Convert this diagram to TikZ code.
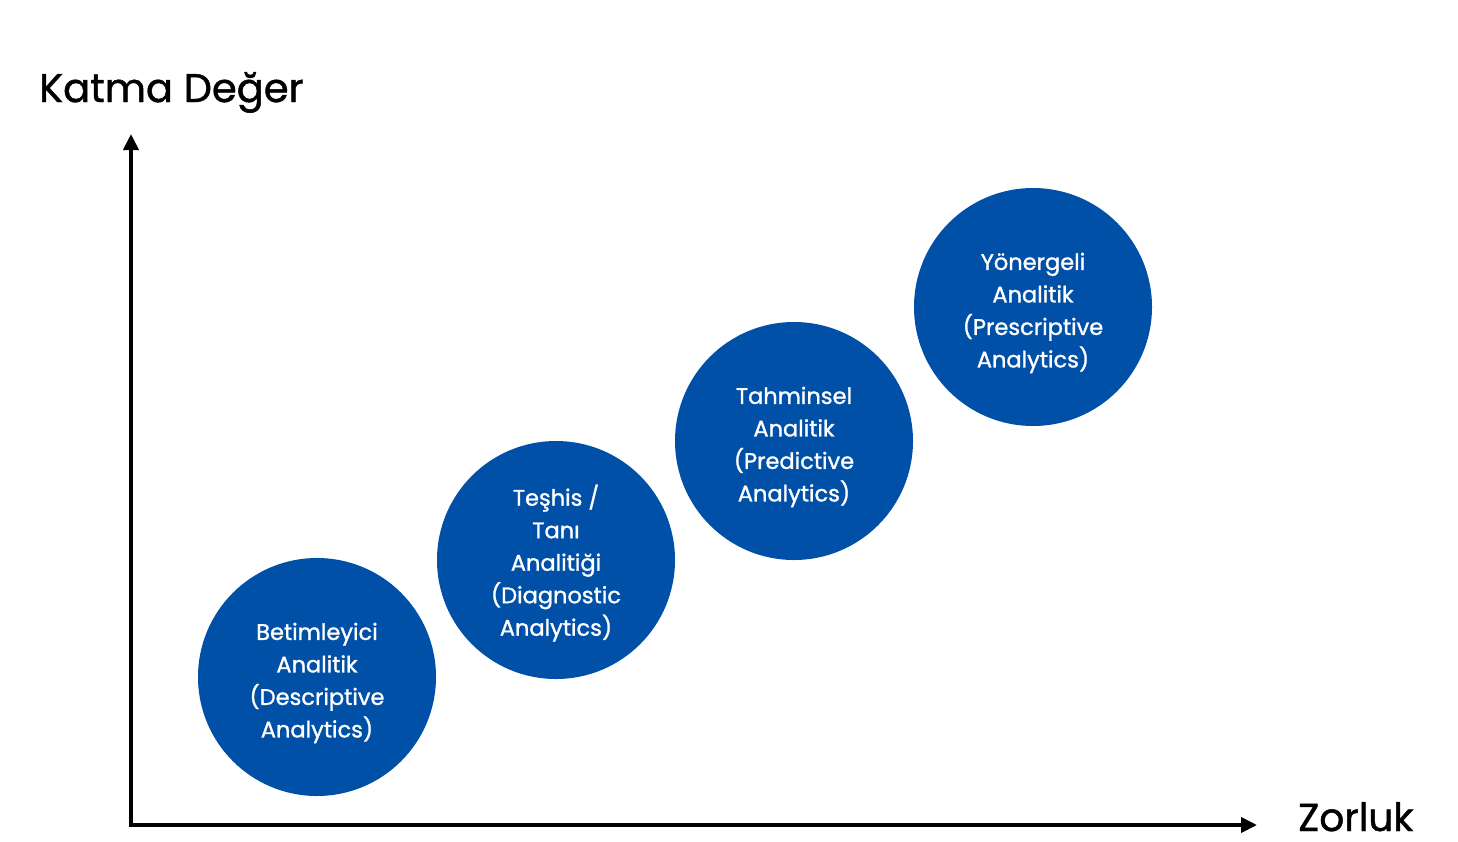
\documentclass[tikz,border=0pt]{standalone}
\usepackage{fontspec}
\setmainfont{Poppins}[FakeBold=1.2]
\usepackage{tikz}
\usetikzlibrary{arrows.meta, positioning, calc}
\definecolor{analyticblue}{RGB}{0, 80, 168}

\begin{document}
\begin{tikzpicture}[x=1pt, y=-1pt,
    axis/.style={line width=3.8pt, -{Triangle[length=16pt, width=15pt]}},
    stage/.style={circle, fill=analyticblue, minimum size=238pt, inner sep=0pt},
    stagetext/.style={text=white, align=center, inner sep=0pt,
      font=\fontsize{22.5}{32.5}\selectfont}]
  \useasboundingbox (0,0) rectangle (1458,841);
  % Axes
  \coordinate (origin) at (131,825);
  \coordinate (ytip) at (131,134);
  \coordinate (xtip) at (1257,825);
  \draw[axis] ([yshift=1.9pt]origin) -- (ytip);
  \draw[axis] ([xshift=-1.9pt]origin) -- (xtip);
  \node[anchor=base west, font=\fontsize{40}{40}\selectfont, inner sep=0pt] (ylabel) at (39,102) {Katma Değer};
  \node[anchor=base west, font=\fontsize{39}{39}\selectfont, inner sep=0pt] (xlabel) at (1298,831) {Zorluk};
  % Analytics stages
  \node[stage] (descr) at (317,677) {};
  \node[stage] (diag) at (556,560) {};
  \node[stage] (pred) at (794,441) {};
  \node[stage] (presc) at (1033,307) {};
  \node[stagetext] (descr-txt) at ([yshift=-6pt]descr) {Betimleyici\\Analitik\\(Descriptive\\Analytics)};
  \node[stagetext] (diag-txt) at ([yshift=-3pt]diag) {Teşhis /\\Tanı\\Analitiği\\(Diagnostic\\Analytics)};
  \node[stagetext] (pred-txt) at ([yshift=-6pt]pred) {Tahminsel\\Analitik\\(Predictive\\Analytics)};
  \node[stagetext] (presc-txt) at ([yshift=-6pt]presc) {Yönergeli\\Analitik\\(Prescriptive\\Analytics)};
\end{tikzpicture}
\end{document}
